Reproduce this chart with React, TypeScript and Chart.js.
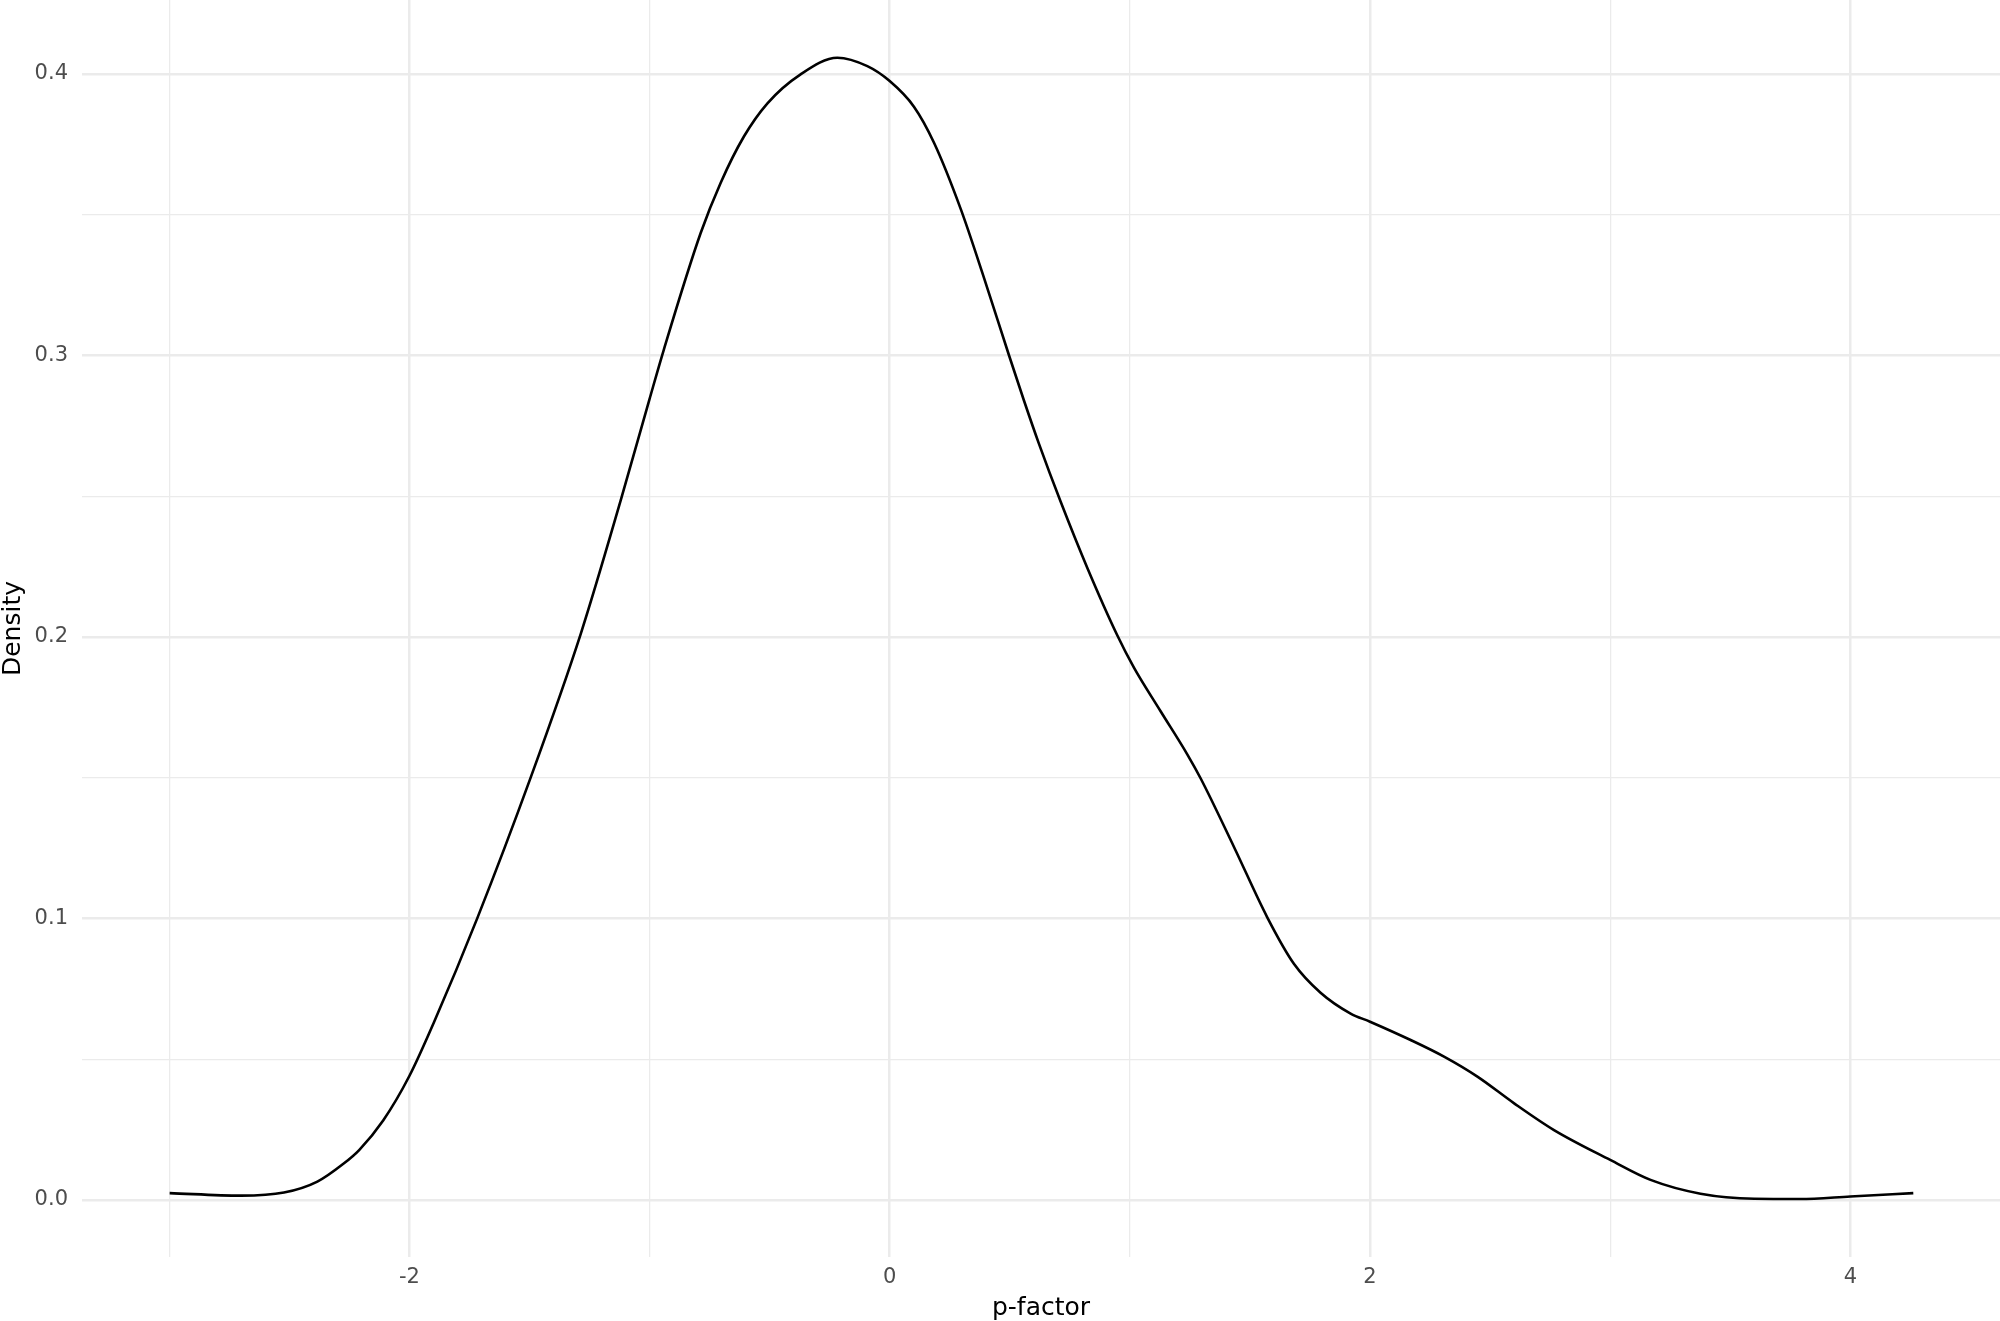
import React, { useEffect, useRef } from "react";
import { Chart, registerables } from "chart.js";

Chart.register(...registerables);

// Density curve
const xValues = [
  -2.998, -2.702, -2.522, -2.383, -2.272, -2.209, -2.109, -2.0, -1.897, -1.717, -1.495,
  -1.286, -1.12, -1.0, -0.94, -0.787, -0.704, -0.607, -0.509, -0.371, -0.218,
  -0.093, 0.0, 0.101, 0.185, 0.296, 0.393, 0.497, 0.559, 0.622, 0.712, 0.823, 0.948, 1.017,
  1.128, 1.239, 1.295, 1.434, 1.572, 1.683, 1.794, 1.919, 2.0, 2.169, 2.308, 2.447, 2.6,
  2.766, 3.0, 3.168, 3.376, 3.6, 3.79, 4.0, 4.262,
];
const densityValues = [
  0.0024, 0.0015, 0.0026, 0.0065, 0.013, 0.0177, 0.0282, 0.044, 0.0632, 0.1001, 0.15,
  0.2012, 0.2485, 0.2845, 0.3022, 0.3435, 0.3613, 0.3778, 0.3896, 0.3999, 0.4058,
  0.4028, 0.3975, 0.3884, 0.3755, 0.352, 0.3275, 0.3, 0.284, 0.2685, 0.248, 0.2245, 0.2005, 0.1891,
  0.1736, 0.1583, 0.1497, 0.1253, 0.1004, 0.0839, 0.0736, 0.0662, 0.0633, 0.0568, 0.0509,
  0.0438, 0.0343, 0.0248, 0.0142, 0.0071, 0.0022, 0.0004, 0.0003, 0.0012, 0.0024,
];

const xTicks = [-3, -2, -1, 0, 1, 2, 3, 4];
const xLabeled = [-2, 0, 2, 4];
const yTicks = [0, 0.05, 0.1, 0.15, 0.2, 0.25, 0.3, 0.35, 0.4];
const yLabeled = [0, 0.1, 0.2, 0.3, 0.4];

const xTitle = "p-factor";
const yTitle = "Density";

const isIn = (list: number[], v: number) => list.some((t) => Math.abs(t - v) < 1e-9);

export default function App() {
  const ref = useRef<HTMLCanvasElement | null>(null);

  useEffect(() => {
    document.body.style.margin = "0";
    const canvas = ref.current;
    if (!canvas) return;

    const titlePlugin = {
      id: "axisTitles",
      afterDraw(chart: any) {
        const { ctx, chartArea } = chart;
        ctx.save();
        ctx.fillStyle = "#000000";
        ctx.font = "25px 'DejaVu Sans'";
        ctx.textAlign = "center";
        ctx.textBaseline = "middle";
        ctx.fillText(xTitle, (chartArea.left + chartArea.right) / 2, 1308);
        ctx.translate(13, (chartArea.top + chartArea.bottom) / 2);
        ctx.rotate(-Math.PI / 2);
        ctx.fillText(yTitle, 0, 0);
        ctx.restore();
      },
    };

    const chart = new Chart(canvas, {
      type: "line",
      data: {
        datasets: [
          {
            data: xValues.map((x, i) => ({ x, y: densityValues[i] })),
            borderColor: "#000000",
            borderWidth: 2.6,
            pointRadius: 0,
            cubicInterpolationMode: "monotone",
            fill: false,
          },
        ],
      },
      options: {
        animation: false,
        responsive: false,
        devicePixelRatio: 1,
        layout: { padding: 0 },
        plugins: { legend: { display: false }, tooltip: { enabled: false } },
        scales: {
          x: {
            type: "linear",
            min: -3.363,
            max: 4.623,
            afterBuildTicks: (scale: any) => {
              scale.ticks = xTicks.map((v) => ({ value: v }));
            },
            afterFit: (scale: any) => {
              scale.height = 64;
              scale.paddingLeft = 0;
              scale.paddingRight = 0;
            },
            border: { display: false },
            grid: {
              drawTicks: false,
              color: "#EBEBEB",
              lineWidth: (ctx: any) => (isIn(xLabeled, ctx.tick?.value) ? 2.5 : 1.25),
            },
            ticks: {
              padding: 8,
              color: "#4D4D4D",
              font: { family: "'DejaVu Sans'", size: 21 },
              maxRotation: 0,
              autoSkip: false,
              callback: (v: any) => (isIn(xLabeled, Number(v)) ? String(v) : ""),
            },
          },
          y: {
            type: "linear",
            min: -0.0203,
            max: 0.4263,
            afterBuildTicks: (scale: any) => {
              scale.ticks = yTicks.map((v) => ({ value: v }));
            },
            afterFit: (scale: any) => {
              scale.width = 82;
              scale.paddingTop = 0;
              scale.paddingBottom = 0;
            },
            border: { display: false },
            grid: {
              drawTicks: false,
              color: "#EBEBEB",
              lineWidth: (ctx: any) => (isIn(yLabeled, ctx.tick?.value) ? 2.5 : 1.25),
            },
            ticks: {
              padding: 14,
              color: "#4D4D4D",
              font: { family: "'DejaVu Sans'", size: 21 },
              autoSkip: false,
              callback: (v: any) => (isIn(yLabeled, Number(v)) ? Number(v).toFixed(1) : ""),
            },
          },
        },
      },
      plugins: [titlePlugin],
    });

    return () => chart.destroy();
  }, []);

  return (
    <div style={{ position: "absolute", left: 0, top: 0, width: 2000, height: 1321, background: "#ffffff" }}>
      <canvas ref={ref} width={2000} height={1321} style={{ display: "block", width: 2000, height: 1321 }} />
    </div>
  );
}
